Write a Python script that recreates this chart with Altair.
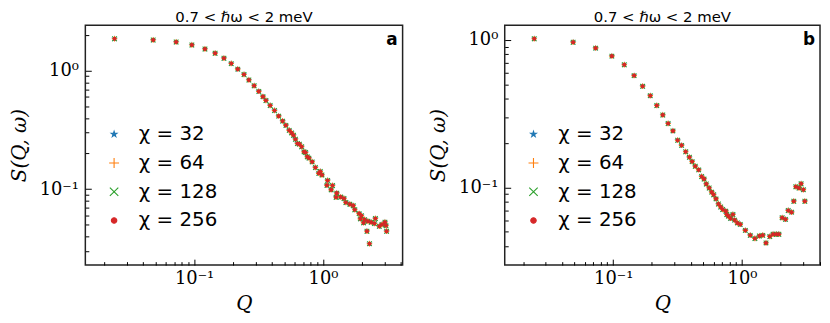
import altair as alt
import pandas as pd

chi_labels = ["χ = 32", "χ = 64", "χ = 128", "χ = 256"]
colors = ["#1f77b4", "#ff7f0e", "#2ca02c", "#d62728"]
fills = ["#1f77b4", "transparent", "transparent", "#d62728"]

title_text = "0.7 < ℏω < 2 meV"

# panel a
q_a = [0.0241, 0.0481, 0.0725, 0.096, 0.1213, 0.1455, 0.1703, 0.194, 0.218, 0.2438,
       0.266, 0.2922, 0.3175, 0.342, 0.3606, 0.389, 0.4205, 0.453, 0.486, 0.515,
       0.547, 0.570, 0.590, 0.611, 0.633, 0.656, 0.683, 0.713, 0.733, 0.755,
       0.778, 0.824, 0.873, 0.927, 0.953, 0.982, 1.086, 1.073, 1.186, 1.157,
       1.279, 1.264, 1.372, 1.455, 1.506, 1.616, 1.716, 1.765, 1.907, 1.986,
       1.951, 2.103, 2.066, 2.233, 2.366, 2.552, 2.506, 2.737, 2.871, 3.027,
       3.081, 2.194, 2.296, 3.117]
s_a = [1.866, 1.820, 1.750, 1.652, 1.528, 1.406, 1.276, 1.151, 1.033, 0.931,
       0.836, 0.748, 0.670, 0.605, 0.561, 0.509, 0.462, 0.414, 0.376, 0.346,
       0.314, 0.299, 0.285, 0.264, 0.243, 0.240, 0.228, 0.2066, 0.204, 0.1876,
       0.183, 0.170, 0.1523, 0.136, 0.141, 0.1318, 0.1185, 0.1076, 0.1072, 0.0986,
       0.0925, 0.0853, 0.0857, 0.0834, 0.0772, 0.0746, 0.0725, 0.0670, 0.0621, 0.0597,
       0.0561, 0.0553, 0.0519, 0.0535, 0.0525, 0.0564, 0.0512, 0.0486, 0.0502, 0.0525,
       0.0492, 0.0441, 0.0346, 0.0441]

# panel b
q_b = [0.0244, 0.0489, 0.0731, 0.0977, 0.122, 0.1454, 0.1693, 0.194, 0.218, 0.2427,
       0.267, 0.291, 0.3165, 0.3395, 0.3655, 0.3904, 0.410, 0.4335, 0.461, 0.4858,
       0.5075, 0.528, 0.556, 0.5815, 0.6024, 0.628, 0.656, 0.683, 0.7073, 0.748,
       0.761, 0.783, 0.814, 0.850, 0.876, 0.920, 0.969, 1.061, 1.158, 1.259,
       1.363, 1.449, 1.535, 1.643, 1.741, 1.844, 1.933, 2.048, 2.175, 2.283,
       2.427, 2.522, 2.616, 2.767, 2.874, 2.992, 3.072]
s_b = [1.020, 0.965, 0.880, 0.777, 0.679, 0.573, 0.485, 0.419, 0.359, 0.310,
       0.271, 0.2417, 0.2087, 0.1928, 0.1746, 0.160, 0.1496, 0.139, 0.1315, 0.1186,
       0.1139, 0.1054, 0.0991, 0.0929, 0.0891, 0.0836, 0.0771, 0.0736, 0.0708, 0.069,
       0.0655, 0.0638, 0.0616, 0.0655, 0.060, 0.0574, 0.0561, 0.0511, 0.0473, 0.045,
       0.0468, 0.0473, 0.0420, 0.0464, 0.0481, 0.0481, 0.0481, 0.0623, 0.0607, 0.0697,
       0.0679, 0.0805, 0.1011, 0.0991, 0.1059, 0.0965, 0.0805]

x_ticks = [0.02, 0.03, 0.04, 0.05, 0.06, 0.07, 0.08, 0.09,
           0.1, 0.2, 0.3, 0.4, 0.5, 0.6, 0.7, 0.8, 0.9, 1, 2, 3, 4]
y_ticks_a = [0.03, 0.04, 0.05, 0.06, 0.07, 0.08, 0.09,
             0.1, 0.2, 0.3, 0.4, 0.5, 0.6, 0.7, 0.8, 0.9, 1, 2]
y_ticks_b = [0.04, 0.05, 0.06, 0.07, 0.08, 0.09,
             0.1, 0.2, 0.3, 0.4, 0.5, 0.6, 0.7, 0.8, 0.9, 1]

STAR = ("M0,-0.6L0.1347,-0.1854L0.5706,-0.1854L0.2178,0.0708L0.3528,0.4854L0,0.2292"
        "L-0.3528,0.4854L-0.2178,0.0708L-0.5706,-0.1854L-0.1347,-0.1854Z")
PLUS = "M-1,0L1,0M0,-1L0,1"
XSH = "M-0.85,-0.85L0.85,0.85M-0.85,0.85L0.85,-0.85"
DOT = "M0.55,0A0.55,0.55,0,1,1,-0.55,0A0.55,0.55,0,1,1,0.55,0Z"
shapes = [STAR, PLUS, XSH, DOT]

LBL = "datum.value == 1 ? '10⁰' : (abs(datum.value - 0.1) < 1e-9 ? '10⁻¹' : '')"
MAJOR = "datum.value == 1 || abs(datum.value - 0.1) < 1e-9"
TICKDASH = {"condition": {"test": MAJOR, "value": [6, 0]}, "value": [0, 2.5, 3.5, 20]}


def make_df(q, s):
    rows = []
    for lab in chi_labels:
        for qq, ss in zip(q, s):
            rows.append({"chi": lab, "Q": qq, "S": ss})
    return pd.DataFrame(rows)


def panel(q, s, xdom, ydom, yticks, letter, w, h):
    df = make_df(q, s)
    leg = alt.Legend(orient="none", legendX=19, legendY=100, title=None,
                     labelFont="DejaVu Sans", labelFontSize=20, labelColor="black",
                     rowPadding=9, labelOffset=15, padding=0, symbolStrokeWidth=1.1)
    xaxis = alt.Axis(values=x_ticks, labelExpr=LBL, tickSize=6, offset=-6,
                     tickDash=TICKDASH, domain=False, labelPadding=5,
                     labelFont="DejaVu Serif", labelFontSize=18, labelOverlap=False,
                     labelFlush=False, title="Q", titleFont="DejaVu Serif",
                     titleFontStyle="italic", titleFontWeight="normal",
                     titleFontSize=20, titlePadding=6, grid=False)
    yaxis = alt.Axis(values=yticks, labelExpr=LBL, tickSize=6, offset=-6,
                     tickDash=TICKDASH, domain=False, labelPadding=7,
                     labelFont="DejaVu Serif", labelFontSize=18, labelOverlap=False,
                     labelFlush=False, title="S(Q, ω)", titleFont="DejaVu Serif",
                     titleFontStyle="italic", titleFontWeight="normal",
                     titleFontSize=20, titlePadding=10, grid=False)
    pts = alt.Chart(df).mark_point(opacity=1, strokeWidth=1.1, size=30).encode(
        x=alt.X("Q:Q", scale=alt.Scale(type="log", domain=xdom, nice=False), axis=xaxis),
        y=alt.Y("S:Q", scale=alt.Scale(type="log", domain=ydom, nice=False), axis=yaxis),
        shape=alt.Shape("chi:N", scale=alt.Scale(domain=chi_labels, range=shapes), legend=leg),
        stroke=alt.Stroke("chi:N", scale=alt.Scale(domain=chi_labels, range=colors), legend=leg),
        fill=alt.Fill("chi:N", scale=alt.Scale(domain=chi_labels, range=fills), legend=leg),
    )
    txt = alt.Chart(pd.DataFrame({"lab": [letter]})).mark_text(
        font="DejaVu Sans", fontWeight="bold", fontSize=17, align="right",
        baseline="middle", color="black"
    ).encode(text="lab:N", x=alt.value(w - 5), y=alt.value(15))
    return alt.layer(pts, txt).properties(
        width=w, height=h,
        title=alt.TitleParams(title_text, fontSize=15, font="DejaVu Sans",
                              fontWeight="normal", frame="group", anchor="middle",
                              offset=0, color="black"),
    )


pa = panel(q_a, s_a, [0.0143, 4.15], [0.0228, 2.43], y_ticks_a, "a", 320, 242)
pb = panel(q_b, s_b, [0.0144, 4.03], [0.0297, 1.26], y_ticks_b, "b", 318, 242)

chart = alt.hconcat(pa, pb, spacing=24).resolve_scale(
    shape="independent", stroke="independent", fill="independent"
).resolve_legend(
    shape="independent", stroke="independent", fill="independent"
).properties(
    padding={"left": 0, "top": 0, "right": 0, "bottom": 0}
).configure_view(stroke="#222", strokeWidth=1.5).configure_axis(
    tickColor="black", labelColor="black", titleColor="black", tickWidth=1
)

chart.save("out.html", embed_options={"renderer": "svg", "actions": False})
